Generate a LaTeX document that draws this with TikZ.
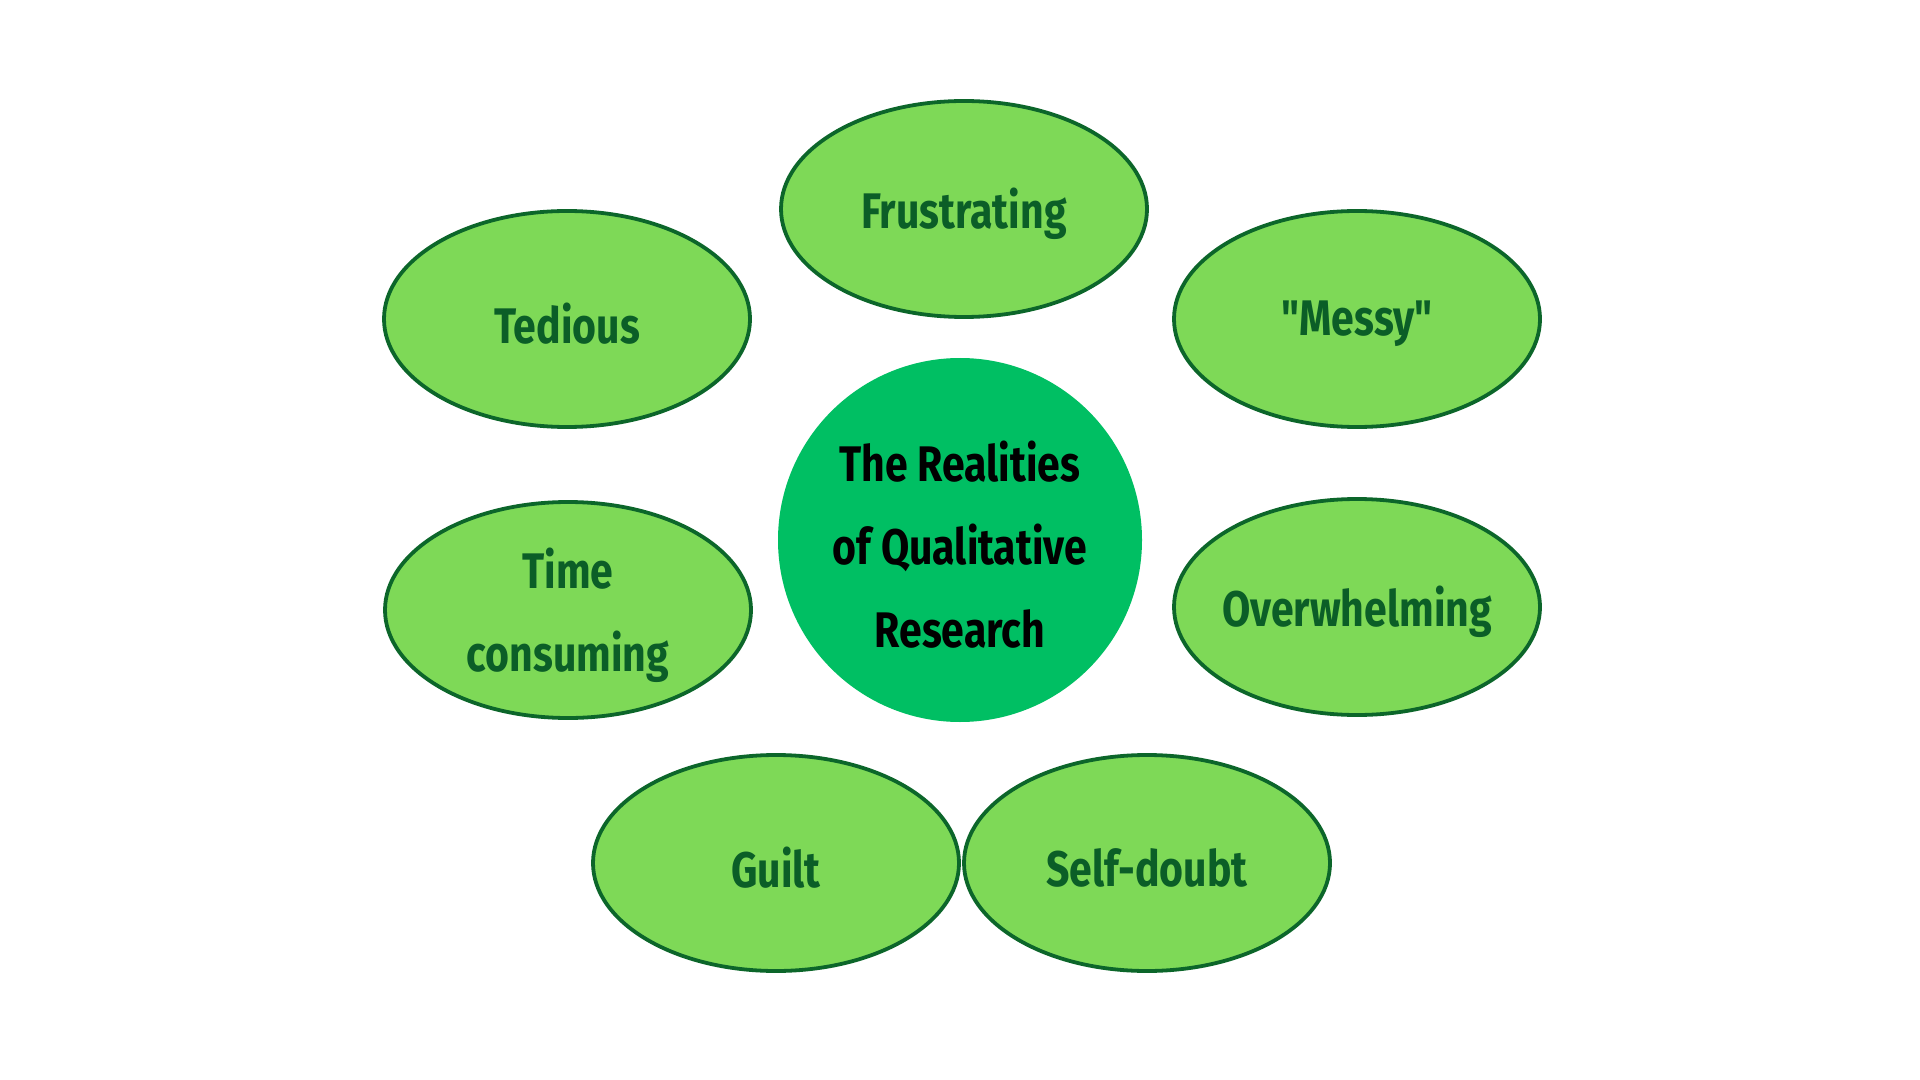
\documentclass[tikz,border=0pt]{standalone}
\usepackage{fontspec}
\setmainfont{Fira Sans}[FakeStretch=0.82, Ligatures=TeXOff]
\usetikzlibrary{shapes.geometric}
\definecolor{leaf}{HTML}{7ED957}
\definecolor{rim}{HTML}{0C662A}
\definecolor{ink}{HTML}{0B5E27}
\definecolor{core}{HTML}{00BF63}
\tikzset{
  word/.style={inner sep=0pt, align=center, yshift=-2.5pt,
    font=\fontsize{25}{41.5}\selectfont\bfseries},
  petal/.style={ellipse, draw=rim, line width=1.9pt, fill=leaf, inner sep=0pt,
    minimum width=183pt, minimum height=108pt,
    label={[word, text=ink]center:#1}},
  hub/.style={circle, fill=core, inner sep=0pt, minimum size=182pt,
    label={[word, text=black]center:#1}}
}
\begin{document}
\begin{tikzpicture}[x=0.5pt,y=-0.5pt]
\useasboundingbox[fill=white] (0,0) rectangle (1920,1080);
\node[hub={The Realities\\of Qualitative\\Research}] (hub) at (960,540) {};
\node[petal={Frustrating}] (frus) at (964,209) {};
\node[petal={"Messy"}] (messy) at (1357,319) {};
\node[petal={Tedious}] (ted) at (567,319) {};
\node[petal={Time\\consuming}] (time) at (568,610) {};
\node[petal={Overwhelming}] (over) at (1357,607) {};
\node[petal={Guilt}] (guilt) at (776,863) {};
\node[petal={Self-doubt}] (self) at (1147,863) {};
\end{tikzpicture}
\end{document}
